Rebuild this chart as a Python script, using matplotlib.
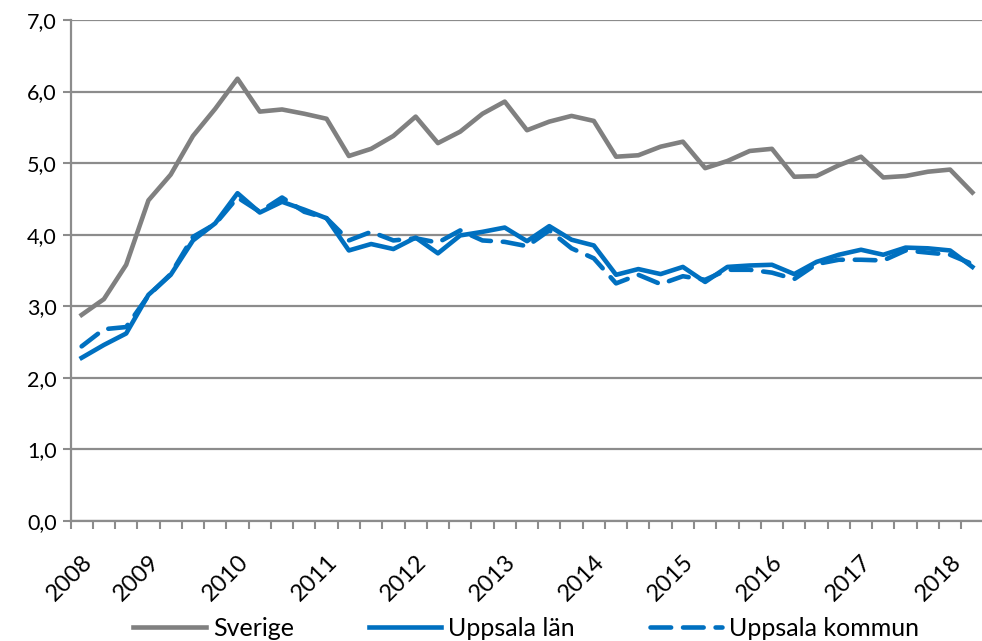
import numpy as np
import matplotlib
matplotlib.use("Agg")
import matplotlib.pyplot as plt

# kvartal 2008 kv2 - 2018 kv2 (41 punkter)
sverige = [2.88, 3.10, 3.58, 4.48, 4.84, 5.38, 5.76, 6.18, 5.72, 5.75,
           5.69, 5.62, 5.10, 5.20, 5.38, 5.65, 5.28, 5.44, 5.69, 5.86,
           5.46, 5.58, 5.66, 5.59, 5.09, 5.11, 5.23, 5.30, 4.93, 5.03,
           5.17, 5.20, 4.81, 4.82, 4.97, 5.09, 4.80, 4.82, 4.88, 4.91,
           4.59]
uppsala_lan = [2.28, 2.46, 2.62, 3.16, 3.44, 3.92, 4.16, 4.58, 4.31, 4.46,
               4.35, 4.23, 3.78, 3.87, 3.80, 3.96, 3.74, 3.99, 4.04, 4.10,
               3.91, 4.12, 3.93, 3.85, 3.44, 3.52, 3.45, 3.55, 3.34, 3.55,
               3.57, 3.58, 3.45, 3.62, 3.72, 3.79, 3.72, 3.82, 3.81, 3.78,
               3.55]
uppsala_kommun = [2.44, 2.68, 2.71, 3.15, 3.45, 3.97, 4.15, 4.52, 4.32, 4.52,
                  4.32, 4.23, 3.92, 4.04, 3.92, 3.95, 3.89, 4.06, 3.92, 3.90,
                  3.84, 4.06, 3.81, 3.67, 3.32, 3.44, 3.31, 3.42, 3.37, 3.51,
                  3.51, 3.47, 3.38, 3.59, 3.65, 3.65, 3.64, 3.78, 3.75, 3.72,
                  3.59]
year_labels = ["2008", "2009", "2010", "2011", "2012", "2013",
               "2014", "2015", "2016", "2017", "2018"]
year_pos = [0, 3, 7, 11, 15, 19, 23, 27, 31, 35, 39]

GRAY = "#808080"
BLUE = "#0070C0"
AXC = "#8c8c8c"

plt.rcParams["font.family"] = ["Lato", "DejaVu Sans"]

fig = plt.figure(figsize=(9.82, 6.41), dpi=100)
ax = fig.add_axes([70.5 / 982, 1 - 521 / 641, 913 / 982, 501 / 641])

x = np.arange(len(sverige))
lw = 3.3
ax.plot(x, sverige, color=GRAY, lw=lw, label="Sverige", solid_joinstyle="round")
ax.plot(x, uppsala_lan, color=BLUE, lw=lw, label="Uppsala län", solid_joinstyle="round")
ax.plot(x, uppsala_kommun, color=BLUE, lw=lw, label="Uppsala kommun",
        dashes=(4.5, 2.6), dash_capstyle="round")

ax.set_xlim(-0.5, len(sverige) - 0.5)
ax.set_ylim(0, 7)
ax.set_yticks(np.arange(0, 8))
ax.set_yticklabels([f"{v:.1f}".replace(".", ",") for v in range(8)], fontsize=15.5)
ax.yaxis.grid(True, color=AXC, lw=1.6)
ax.set_axisbelow(True)

ax.set_xticks(year_pos)
ax.set_xticklabels(year_labels, rotation=45, ha="right", rotation_mode="anchor", fontsize=17)
ax.set_xticks(np.arange(-0.5, len(sverige)), minor=True)
ax.tick_params(axis="x", which="major", length=0, pad=22)
ax.tick_params(axis="x", which="minor", length=6, width=1.5, color=AXC)
ax.tick_params(axis="y", length=6, width=1.5, color=AXC, pad=4)

for s in ["top", "right"]:
    ax.spines[s].set_visible(False)
for s in ["left", "bottom"]:
    ax.spines[s].set_color(AXC)
    ax.spines[s].set_linewidth(1.6)

leg = fig.legend(loc="center", bbox_to_anchor=(0.536, 1 - 628 / 641), ncol=3,
                 frameon=False, fontsize=18, handlelength=2.9, columnspacing=3.0,
                 handletextpad=0.28)

fig.savefig("out.png", dpi=100)
